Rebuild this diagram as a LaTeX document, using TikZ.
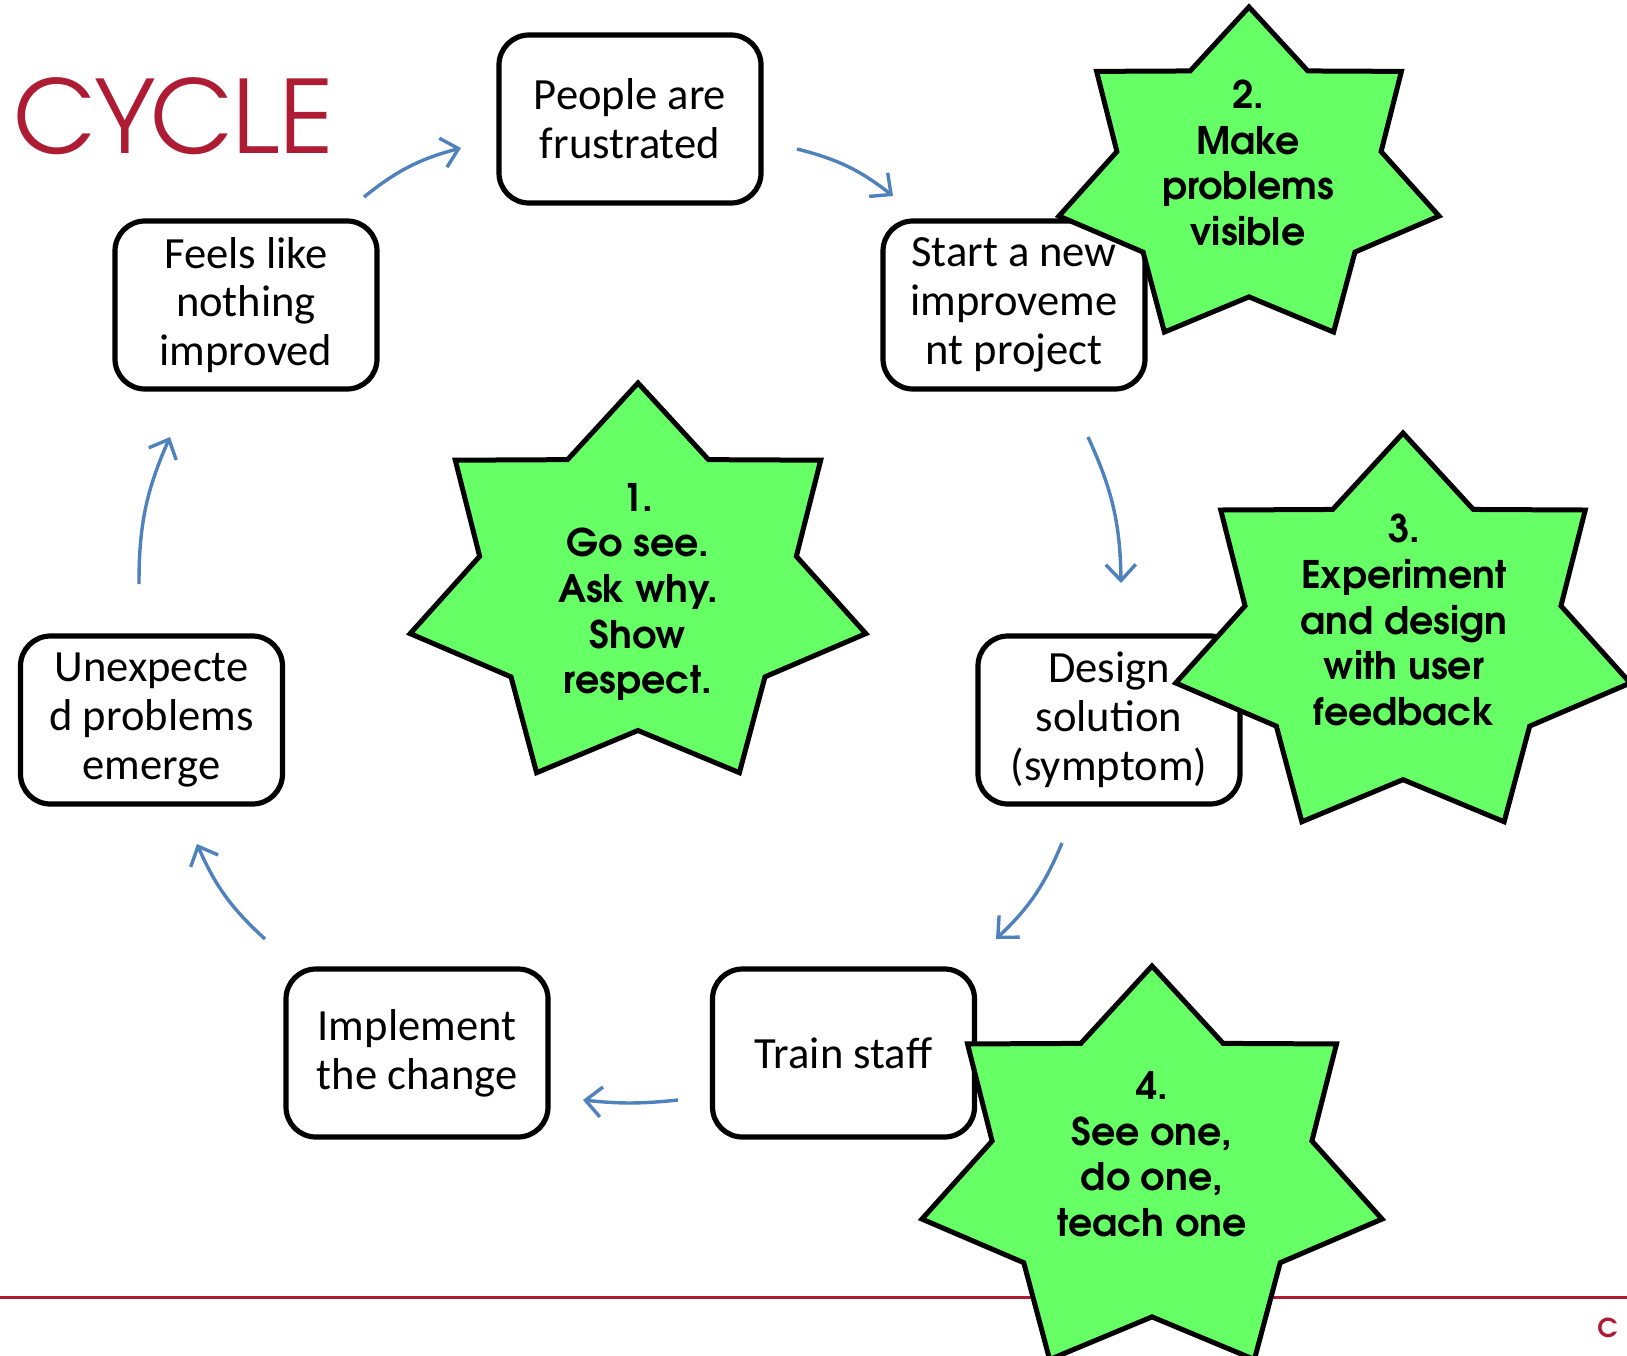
\documentclass[tikz,border=0pt]{standalone}
\usepackage{fontspec}
\setmainfont{Carlito}
\newfontfamily\starfont{texgyreadventor}[Extension=.otf,UprightFont=*-regular,BoldFont=*-bold]
\usetikzlibrary{arrows.meta,calc}
\definecolor{arrowblue}{HTML}{4F81BD}
\definecolor{stargreen}{HTML}{66FF66}
\definecolor{brandred}{HTML}{AE1C34}
\newcommand\greenstar[3]{%
  \filldraw[starshape] plot[samples at={0,...,13},variable=\k]
    ({#1+1.14*#3*(isodd(\k)?0.695:1)*sin(\k*180/7)},{#2-#3*(isodd(\k)?0.695:1)*cos(\k*180/7)}) -- cycle;}
\begin{document}
\begin{tikzpicture}[x=0.5pt,y=-0.5pt,
  box/.style={draw=black,line width=2.6pt,rounded corners=15pt,fill=white,
    minimum width=131pt,minimum height=84pt,align=center,inner sep=0pt,
    font=\fontsize{22.3}{24.4}\selectfont},
  starshape/.style={draw=black,line width=2.5pt,fill=stargreen},
  startext/.style={align=center,inner sep=0pt,
    font=\starfont\bfseries\fontsize{19}{22.8}\selectfont},
  flow/.style={draw=arrowblue,line width=1.7pt,
    -{Straight Barb[length=8pt,width=15pt]},bend left=12}]
\useasboundingbox (0,0) rectangle (1627,1355);
\fill[white] (0,0) rectangle (1627,1355);

% title
\node[anchor=base west,inner sep=0pt,text=brandred,
  font=\starfont\fontsize{50.5}{50.5}\selectfont] (title) at (13,153) {CYCLE};

% footer line
\coordinate (footL) at (0,1297);
\coordinate (footR) at (1627,1297);
\draw[brandred,line width=1.5pt] (footL) -- (footR);
\node[anchor=base west,inner sep=0pt,text=brandred,
  font=\starfont\bfseries\fontsize{13}{13}\selectfont] (logo) at (1597,1337) {C};

% boxes
\node[box] (frustrated) at (630,119) {People are\\frustrated};
\node[box] (startproj) at (1014,305) {Start a new\\improveme\\nt project};
\node[box] (design) at (1109,720) {Design\\solution\\(symptom)};
\node[box] (train) at (843.5,1053) {Train staff};
\node[box] (implement) at (417,1053) {Implement\\the change};
\node[box] (unexpected) at (151.5,720) {Unexpecte\\d problems\\emerge};
\node[box] (feels) at (246,305) {Feels like\\nothing\\improved};

% arrows
\coordinate (a1s) at (364,197);  \coordinate (a1e) at (461,148);
\coordinate (a2s) at (797,149);  \coordinate (a2e) at (893,196);
\coordinate (a3s) at (1088,437); \coordinate (a3e) at (1121,583);
\coordinate (a4s) at (1062,843); \coordinate (a4e) at (996,939);
\coordinate (a5s) at (678,1100); \coordinate (a5e) at (583,1100);
\coordinate (a6s) at (265,939);  \coordinate (a6e) at (197,844);
\coordinate (a7s) at (139,584);  \coordinate (a7e) at (170,437);
\draw[flow] (a1s) to (a1e);
\draw[flow] (a2s) to (a2e);
\draw[flow] (a3s) to (a3e);
\draw[flow] (a4s) to (a4e);
\draw[flow,bend left=6] (a5s) to (a5e);
\draw[flow] (a6s) to (a6e);
\draw[flow] (a7s) to (a7e);

% stars
\greenstar{638}{588}{205}
\node[startext] (s1) at (638,592) {1.\\Go see.\\Ask why.\\Show\\respect.};
\greenstar{1249}{178}{171}
\node[startext] (s2) at (1248,163) {2.\\Make\\problems\\visible};
\greenstar{1403}{637.5}{204.5}
\node[startext] (s3) at (1404,620) {3.\\Experiment\\and design\\with user\\feedback};
\greenstar{1152}{1173}{207}
\node[startext] (s4) at (1152,1154) {4.\\See one,\\do one,\\teach one};
\end{tikzpicture}
\end{document}
